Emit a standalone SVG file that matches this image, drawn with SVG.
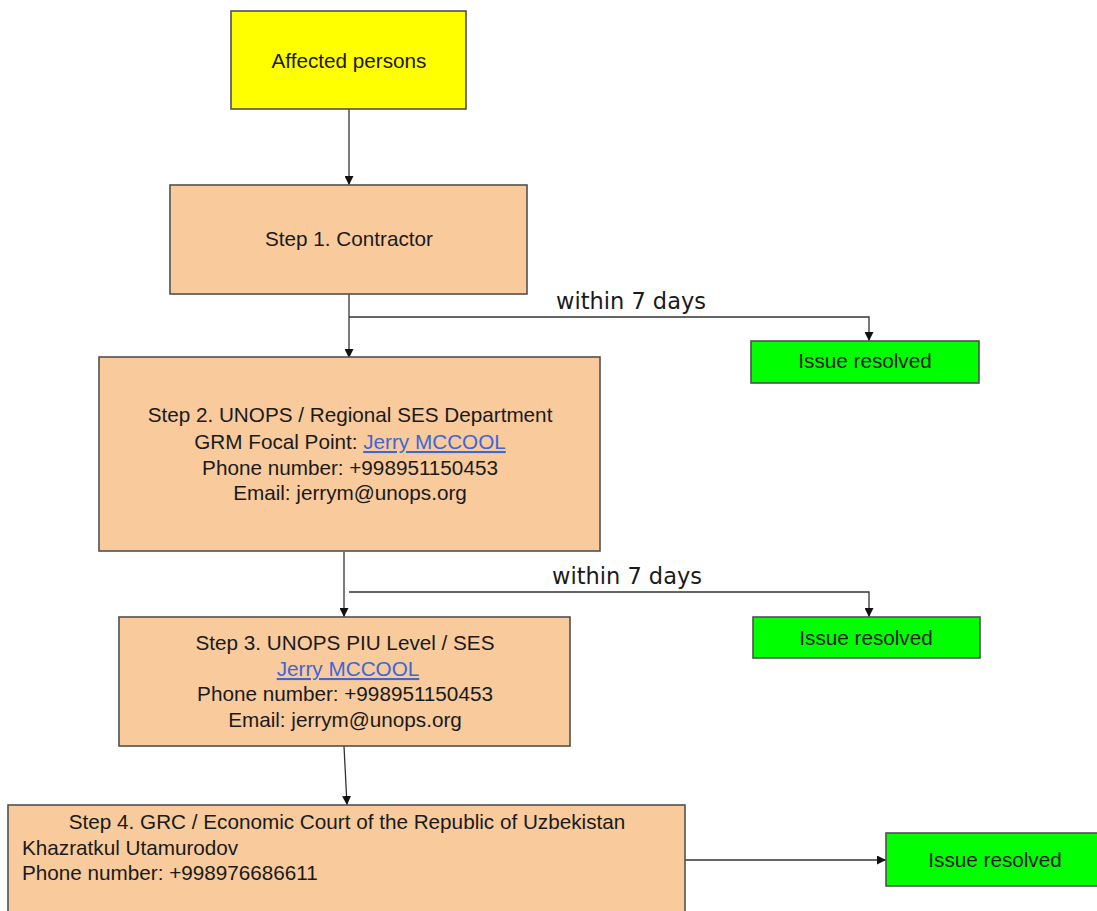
<svg xmlns="http://www.w3.org/2000/svg" width="1097" height="911" viewBox="0 0 1097 911">
<style>
.box{stroke:#505050;stroke-width:1.6}
.yellow{fill:#ffff00}
.peach{fill:#f8ca9c}
.green{fill:#00ff00}
.t{font-family:"Liberation Sans",Arial,sans-serif;font-size:20.7px;fill:#1a1a1a}
.c{text-anchor:middle}
.link{fill:#3d66d6;text-decoration:underline}
.lbl{font-family:"DejaVu Sans",Verdana,sans-serif;font-size:22.5px;fill:#1a1a1a}
.conn{fill:none;stroke:#333;stroke-width:1.3}
</style>
<defs>
<marker id="arr" viewBox="0 0 10 10" refX="10" refY="5" markerWidth="9" markerHeight="9" markerUnits="userSpaceOnUse" orient="auto">
<path d="M0,0 L10,5 L0,10 z" fill="#111"/>
</marker>
</defs>
<rect width="1097" height="911" fill="#fff"/>
<g id="connectors">
<path class="conn" d="M349,109 L349,185" marker-end="url(#arr)"/>
<path class="conn" d="M349,294 L349,358" marker-end="url(#arr)"/>
<path class="conn" d="M349,317 L869,317 L869,341" marker-end="url(#arr)"/>
<path class="conn" d="M344,552 L344,617" marker-end="url(#arr)"/>
<path class="conn" d="M349,592 L869,592 L869,617" marker-end="url(#arr)"/>
<path class="conn" d="M344,746 L347,805" marker-end="url(#arr)"/>
<path class="conn" d="M685,860 L886,860" marker-end="url(#arr)"/>
<text class="lbl" x="556" y="309">within 7 days</text>
<text class="lbl" x="552" y="584">within 7 days</text>
</g>
<g id="affected">
<rect class="box yellow" x="231" y="11" width="235" height="98"/>
<text class="t c" x="349" y="68">Affected persons</text>
</g>
<g id="step1">
<rect class="box peach" x="170" y="185" width="357" height="109"/>
<text class="t c" x="349" y="246">Step 1. Contractor</text>
</g>
<g id="resolved1">
<rect class="box green" x="751" y="341" width="228" height="42"/>
<text class="t c" x="865" y="368">Issue resolved</text>
</g>
<g id="step2">
<rect class="box peach" x="99" y="357" width="501" height="194"/>
<text class="t c" x="350" y="422">Step 2. UNOPS / Regional SES Department</text>
<text class="t c" x="350" y="449">GRM Focal Point: <tspan class="link">Jerry MCCOOL</tspan></text>
<text class="t c" x="350" y="475">Phone number: +998951150453</text>
<text class="t c" x="350" y="500">Email: jerrym@unops.org</text>
</g>
<g id="resolved2">
<rect class="box green" x="753" y="617" width="227" height="41"/>
<text class="t c" x="866" y="645">Issue resolved</text>
</g>
<g id="step3">
<rect class="box peach" x="119" y="617" width="451" height="129"/>
<text class="t c" x="345" y="650">Step 3. UNOPS PIU Level / SES</text>
<text class="t c link" x="348" y="676">Jerry MCCOOL</text>
<text class="t c" x="345" y="701">Phone number: +998951150453</text>
<text class="t c" x="345" y="727">Email: jerrym@unops.org</text>
</g>
<g id="step4">
<rect class="box peach" x="8" y="805" width="677" height="120"/>
<text class="t c" x="347" y="829">Step 4. GRC / Economic Court of the Republic of Uzbekistan</text>
<text class="t" x="22" y="855">Khazratkul Utamurodov</text>
<text class="t" x="22" y="880">Phone number: +998976686611</text>
</g>
<g id="resolved3">
<rect class="box green" x="886" y="833" width="220" height="53"/>
<text class="t c" x="995" y="867">Issue resolved</text>
</g>
</svg>
